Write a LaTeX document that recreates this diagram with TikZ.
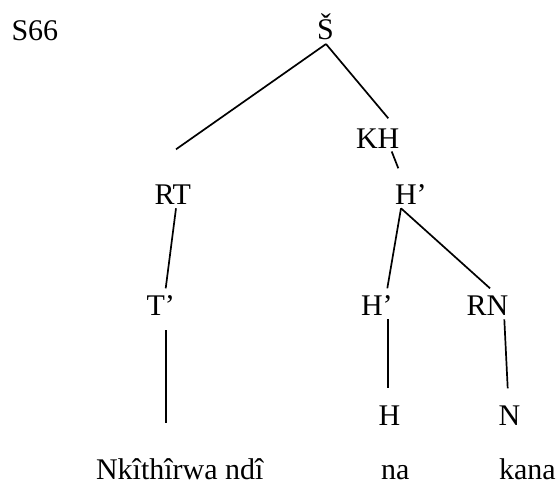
\documentclass[tikz,border=0pt]{standalone}
\usepackage{fontspec}
\setmainfont{Liberation Serif}
\begin{document}
\begin{tikzpicture}[x=0.5pt,y=-0.5pt,
  lbl/.style={anchor=base west,inner sep=0pt,outer sep=0pt,font=\fontsize{15}{18}\selectfont},
  branch/.style={line width=0.85pt,line cap=butt}]
\useasboundingbox (0,0) rectangle (560,484);
% labels
\node[lbl] (s66) at (11.5,40) {S66};
\node[lbl] (S) at (317,39.5) {Š};
\node[lbl] (KH) at (356,148) {KH};
\node[lbl] (RT) at (154.5,204) {RT};
\node[lbl] (Hb1) at (395,204) {H’};
\node[lbl] (Tb) at (146.5,315) {T’};
\node[lbl] (Hb2) at (361,315) {H’};
\node[lbl] (RN) at (466.5,315) {RN};
\node[lbl] (H) at (378.5,425) {H};
\node[lbl] (N) at (498.5,425) {N};
\node[lbl] (w1) at (96,479.5) {Nkîthîrwa ndî};
\node[lbl] (w2) at (381,479.5) {na};
\node[lbl] (w3) at (499,479.5) {kana};
% connector ends
\coordinate (Sb) at (326,44);
\coordinate (RTt) at (176,149.3);
\coordinate (KHt) at (388.3,118.3);
\coordinate (KHb) at (391.7,151.5);
\coordinate (Hb1t) at (398.3,168.3);
\coordinate (RTb) at (176,208.3);
\coordinate (Tbt) at (165.7,288.3);
\coordinate (Tbb) at (165.7,330);
\coordinate (w1t) at (165.7,423.3);
\coordinate (Hb1b) at (401,208.3);
\coordinate (Hb2t) at (387.3,288.3);
\coordinate (RNt) at (490,288.3);
\coordinate (Hb2b) at (388.3,319.3);
\coordinate (Ht) at (388.3,388.3);
\coordinate (RNb) at (504.3,319.3);
\coordinate (Nt) at (507.7,388.3);
% connectors
\draw[branch] (Sb) -- (RTt);
\draw[branch] (Sb) -- (KHt);
\draw[branch] (KHb) -- (Hb1t);
\draw[branch] (RTb) -- (Tbt);
\draw[branch] (Tbb) -- (w1t);
\draw[branch] (Hb1b) -- (Hb2t);
\draw[branch] (Hb1b) -- (RNt);
\draw[branch] (Hb2b) -- (Ht);
\draw[branch] (RNb) -- (Nt);
\end{tikzpicture}
\end{document}
